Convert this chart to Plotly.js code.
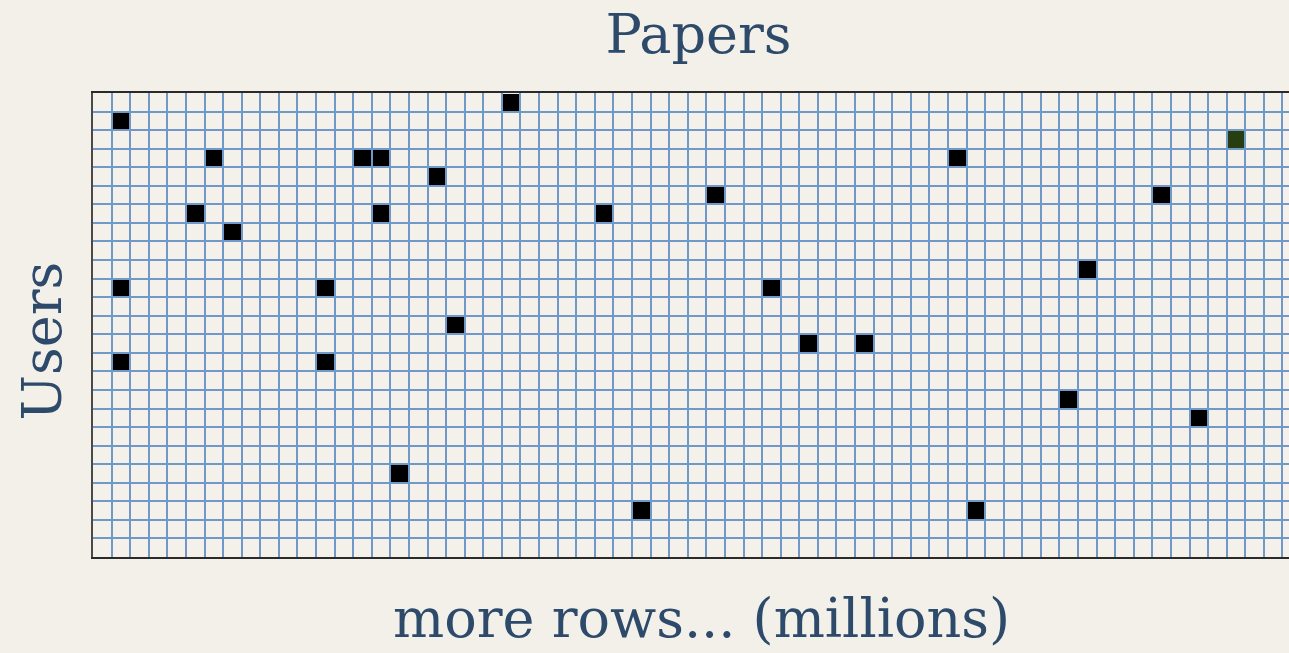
<!DOCTYPE html>
<html>
<head>
<meta charset="utf-8">
<script src="https://cdn.plot.ly/plotly-3.0.1.min.js"></script>
<style>html,body{margin:0;padding:0;background:#f3f0ea;}#chart{width:1289px;height:653px;}</style>
</head>
<body>
<div id="chart"></div>
<script>
// Filled cells of the user x paper matrix (column = paper index, row = user index)
const filledCols = [22, 1, 61, 6, 14, 15, 46, 18, 33, 57, 5, 15, 27, 7, 53, 1, 12, 36, 19, 38, 41, 1, 12, 52, 59, 16, 29, 47];
const filledRows = [0, 1, 2, 3, 3, 3, 3, 4, 5, 5, 6, 6, 6, 7, 9, 10, 10, 10, 12, 13, 13, 14, 14, 16, 17, 20, 22, 22];
const filledKind = [1, 1, 2, 1, 1, 1, 1, 1, 1, 1, 1, 1, 1, 1, 1, 1, 1, 1, 1, 1, 1, 1, 1, 1, 1, 1, 1, 1];
const nPapers = 65;
const nUsers = 25;
const titleText = "Papers";
const xLabel = "more rows... (millions)";
const yLabel = "Users";

const xs = Array.from({length: nPapers}, (_, i) => i);
const ys = Array.from({length: nUsers}, (_, i) => i);
const z = ys.map(() => xs.map(() => null));
filledCols.forEach((c, i) => { z[filledRows[i]][c] = filledKind[i]; });

const textColor = '#2e4a6b';
const serif = 'DejaVu Serif, Liberation Serif, serif';

const trace = {
  type: 'heatmap',
  x: xs, y: ys, z: z,
  zmin: 1, zmax: 2,
  colorscale: [[0, '#000000'], [0.5, '#000000'], [0.5, '#273e10'], [1, '#273e10']],
  showscale: false,
  xgap: 2, ygap: 2,
  hoverinfo: 'skip'
};

const layout = {
  width: 1289, height: 653,
  margin: {l: 93, r: 0, t: 93, b: 96},
  paper_bgcolor: '#f3f0ea',
  plot_bgcolor: '#f4f1eb',
  showlegend: false,
  title: {text: titleText, font: {family: serif, size: 54, color: textColor},
          xref: 'container', yref: 'container', x: 698.5 / 1289, y: 1 - 34 / 653,
          xanchor: 'center', yanchor: 'middle'},
  xaxis: {range: [-0.5, 63.85], tick0: -0.5, dtick: 1, showgrid: true, gridcolor: '#7098c8', gridwidth: 2,
          zeroline: false, showticklabels: false, ticks: '', showline: true, mirror: true,
          linecolor: '#2a2a2a', linewidth: 2, fixedrange: true},
  yaxis: {range: [24.5, -0.5], tick0: -0.5, dtick: 1, showgrid: true, gridcolor: '#7098c8', gridwidth: 2,
          zeroline: false, showticklabels: false, ticks: '', showline: true, mirror: false,
          linecolor: '#4a4a4a', linewidth: 2, fixedrange: true},
  annotations: [
    {text: xLabel, xref: 'paper', yref: 'paper', x: (701.5 - 93) / 1196, y: (557 - 618) / 464,
     xanchor: 'center', yanchor: 'middle', showarrow: false,
     font: {family: serif, size: 54, color: textColor}},
    {text: yLabel, xref: 'paper', yref: 'paper', x: (41.5 - 93) / 1196, y: (557 - 341) / 464,
     xanchor: 'center', yanchor: 'middle', showarrow: false, textangle: -90,
     font: {family: serif, size: 54, color: textColor}}
  ]
};

Plotly.newPlot('chart', [trace], layout, {displayModeBar: false, staticPlot: true});
</script>
</body>
</html>
